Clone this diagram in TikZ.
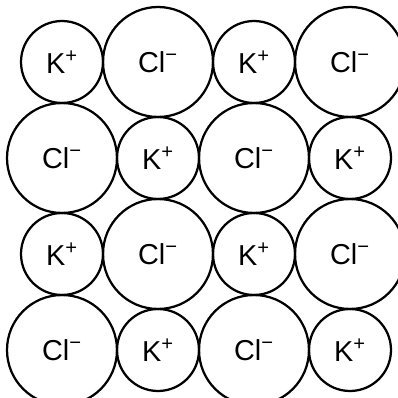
\documentclass[tikz,border=0pt]{standalone}
\usepackage{fontspec}
\setmainfont{Liberation Sans}
\usepackage{tikz}

\tikzset{
  ione/.style={draw, circle, line width=1.6pt, inner sep=0pt,
    font=\fontsize{20.5}{24}\selectfont},
  kione/.style={ione, minimum size=2.05cm},
  clione/.style={ione, minimum size=2.75cm}
}
\newcommand{\kp}{K\textsuperscript{+}}
\newcommand{\clm}{Cl\textsuperscript{\char"2212}}

\begin{document}
\begin{tikzpicture}
        \useasboundingbox (0, 0) rectangle (9.95, 9.95);

        % Riga 1
        \node[kione]  (a1) at (1.55, 8.4) {\kp};
        \node[clione] (a2) at (3.95, 8.4) {\clm};
        \node[kione]  (a3) at (6.35, 8.4) {\kp};
        \node[clione] (a4) at (8.75, 8.4) {\clm};

        % Riga 2
        \node[clione] (b1) at (1.55, 6.0) {\clm};
        \node[kione]  (b2) at (3.95, 6.0) {\kp};
        \node[clione] (b3) at (6.35, 6.0) {\clm};
        \node[kione]  (b4) at (8.75, 6.0) {\kp};

        % Riga 3
        \node[kione]  (c1) at (1.55, 3.6) {\kp};
        \node[clione] (c2) at (3.95, 3.6) {\clm};
        \node[kione]  (c3) at (6.35, 3.6) {\kp};
        \node[clione] (c4) at (8.75, 3.6) {\clm};

        % Riga 4
        \node[clione] (d1) at (1.55, 1.2) {\clm};
        \node[kione]  (d2) at (3.95, 1.2) {\kp};
        \node[clione] (d3) at (6.35, 1.2) {\clm};
        \node[kione]  (d4) at (8.75, 1.2) {\kp};
    \end{tikzpicture}
\end{document}
